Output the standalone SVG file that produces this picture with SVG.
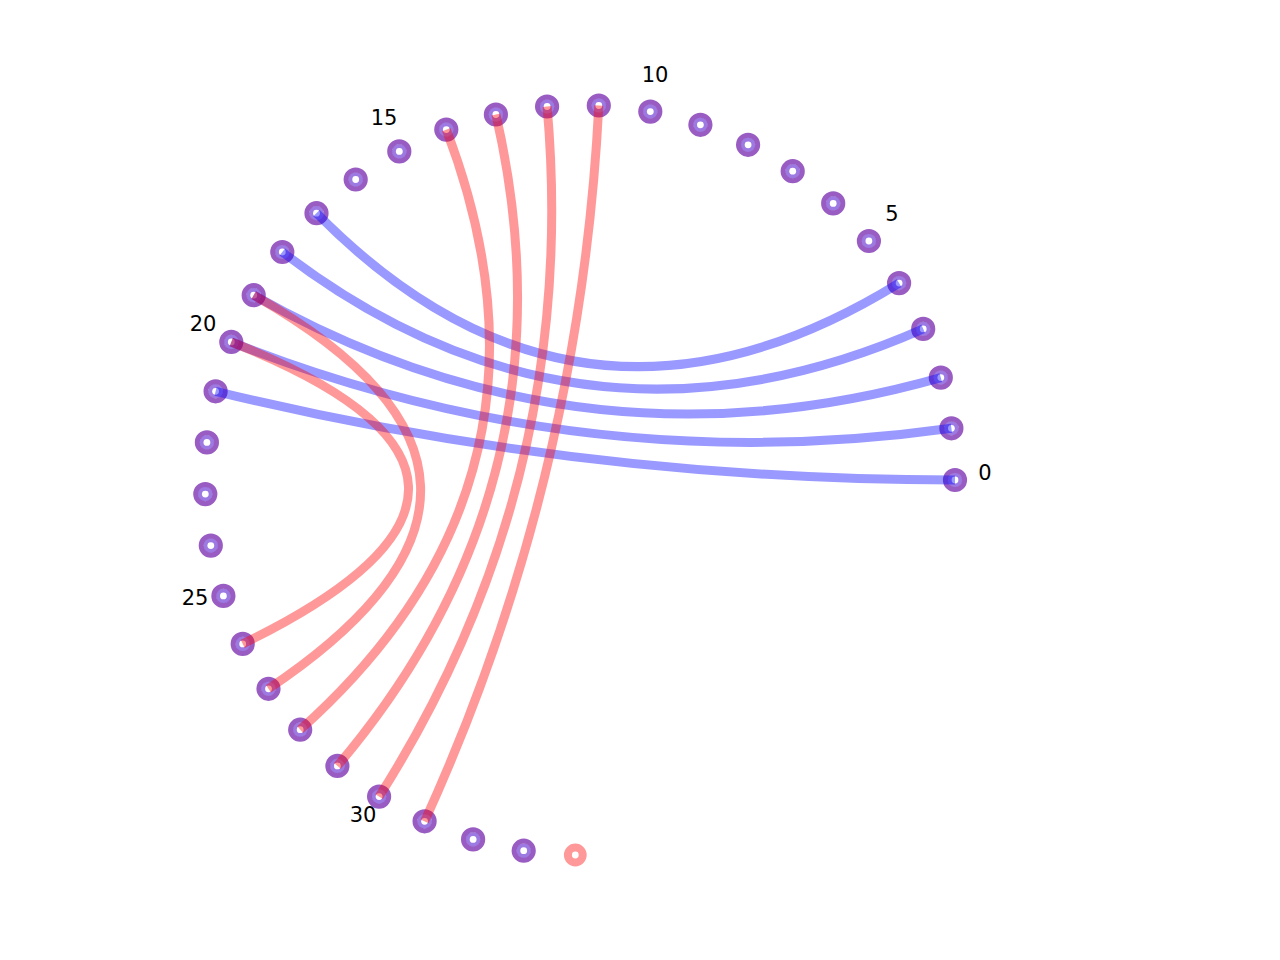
<svg xmlns="http://www.w3.org/2000/svg" width="1280" height="960" viewBox="0 0 1280 960">
<defs>
<style>
.no{fill:none;stroke:#995cc2;stroke-width:5}
.ni{fill:#9c7ae2}
.nc{fill:#ffffff}
.ro{fill:none;stroke:#ff9999;stroke-width:8}
.e{fill:none;stroke-width:9;stroke-linecap:butt;stroke-opacity:0.4}
.b{stroke:#0000ff}
.r{stroke:#ff0000}
.lbl{font-family:"DejaVu Sans",sans-serif;font-size:21px;fill:#000;text-anchor:middle;dominant-baseline:central}
</style>
<g id="nd"><circle class="ni" r="7.5"/><circle class="no" r="9.6"/><circle class="nc" r="3.4"/></g>
</defs>
<rect width="1280" height="960" fill="#ffffff"/>
<g id="nodes">
<g id="node0"><use href="#nd" x="955" y="480"/></g>
<g id="node1"><use href="#nd" x="951.4" y="428.3"/></g>
<g id="node2"><use href="#nd" x="940.8" y="377.6"/></g>
<g id="node3"><use href="#nd" x="923.2" y="328.9"/></g>
<g id="node4"><use href="#nd" x="899.1" y="283.1"/></g>
<g id="node5"><use href="#nd" x="868.9" y="241.0"/></g>
<g id="node6"><use href="#nd" x="833.2" y="203.4"/></g>
<g id="node7"><use href="#nd" x="792.7" y="171.2"/></g>
<g id="node8"><use href="#nd" x="748.1" y="144.8"/></g>
<g id="node9"><use href="#nd" x="700.4" y="124.8"/></g>
<g id="node10"><use href="#nd" x="650.3" y="111.6"/></g>
<g id="node11"><use href="#nd" x="598.8" y="105.5"/></g>
<g id="node12"><use href="#nd" x="547.1" y="106.5"/></g>
<g id="node13"><use href="#nd" x="495.9" y="114.5"/></g>
<g id="node14"><use href="#nd" x="446.3" y="129.6"/></g>
<g id="node15"><use href="#nd" x="399.3" y="151.4"/></g>
<g id="node16"><use href="#nd" x="355.7" y="179.5"/></g>
<g id="node17"><use href="#nd" x="316.5" y="213.2"/></g>
<g id="node18"><use href="#nd" x="282.3" y="252.0"/></g>
<g id="node19"><use href="#nd" x="253.7" y="295.2"/></g>
<g id="node20"><use href="#nd" x="231.3" y="341.95"/></g>
<g id="node21"><use href="#nd" x="215.6" y="391.3"/></g>
<g id="node22"><use href="#nd" x="206.9" y="442.4"/></g>
<g id="node23"><use href="#nd" x="205.3" y="494.1"/></g>
<g id="node24"><use href="#nd" x="210.8" y="545.6"/></g>
<g id="node25"><use href="#nd" x="223.4" y="595.9"/></g>
<g id="node26"><use href="#nd" x="242.7" y="643.9"/></g>
<g id="node27"><use href="#nd" x="268.5" y="688.8"/></g>
<g id="node28"><use href="#nd" x="300.2" y="729.7"/></g>
<g id="node29"><use href="#nd" x="337.4" y="765.9"/></g>
<g id="node30"><use href="#nd" x="379.1" y="796.6"/></g>
<g id="node31"><use href="#nd" x="424.6" y="821.3"/></g>
<g id="node32"><use href="#nd" x="473.1" y="839.4"/></g>
<g id="node33"><use href="#nd" x="523.7" y="850.7"/></g>
<g id="node34"><circle class="ro" cx="575.3" cy="855" r="7.4"/></g>
</g>
<g id="connectors">
<path class="e b" d="M899.1,283.1 Q580,480 316.5,213.2"/>
<path class="e b" d="M923.2,328.9 Q580,480 282.3,252.0"/>
<path class="e b" d="M940.8,377.6 Q580,480 253.7,295.2"/>
<path class="e b" d="M951.4,428.3 Q580,480 231.3,341.95"/>
<path class="e b" d="M955,480 Q580,480 215.6,391.3"/>
<path class="e r" d="M253.7,295.2 Q580,480 268.5,688.8"/>
<path class="e r" d="M231.3,341.95 Q580,480 242.7,643.9"/>
<path class="e r" d="M446.3,129.6 Q580,480 300.2,729.7"/>
<path class="e r" d="M495.9,114.5 Q580,480 337.4,765.9"/>
<path class="e r" d="M547.1,106.5 Q580,480 379.1,796.6"/>
<path class="e r" d="M598.8,105.5 Q580,480 424.6,821.3"/>
</g>
<g id="labels">
<text class="lbl" x="985" y="473">0</text>
<text class="lbl" x="892" y="214">5</text>
<text class="lbl" x="655" y="75">10</text>
<text class="lbl" x="384" y="118">15</text>
<text class="lbl" x="203" y="324">20</text>
<text class="lbl" x="195" y="598">25</text>
<text class="lbl" x="363" y="815">30</text>
</g>
</svg>
